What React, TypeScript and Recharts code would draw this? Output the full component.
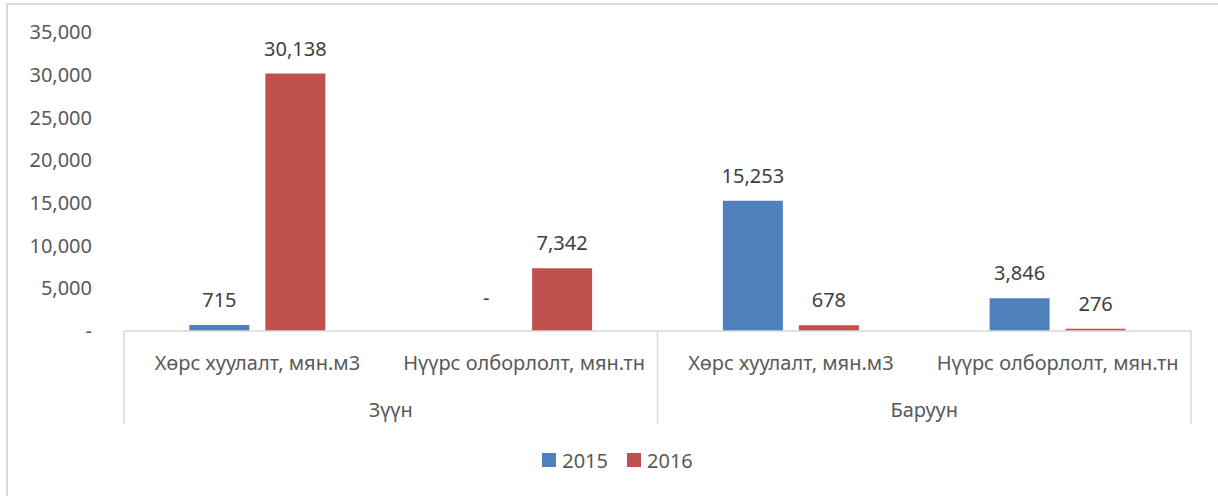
import { BarChart, Bar, XAxis, YAxis, LabelList, Legend } from "recharts";

const categories = [
  "Хөрс хуулалт, мян.м3",
  "Нүүрс олборлолт, мян.тн",
  "Хөрс хуулалт, мян.м3",
  "Нүүрс олборлолт, мян.тн",
];
const groups = ["Зүүн", "Зүүн", "Баруун", "Баруун"];
const values2015 = [715, 0, 15253, 3846];
const values2016 = [30138, 7342, 678, 276];
const yTicks = [0, 5000, 10000, 15000, 20000, 25000, 30000, 35000];

const data = categories.map((name, i) => ({
  name,
  group: groups[i],
  y2015: values2015[i],
  y2016: values2016[i],
}));

const FONT = '"Noto Sans", sans-serif';
const GRID = "#D9D9D9";
const fmt = (v: number) => (v === 0 ? "-" : v.toLocaleString("en-US"));
// zero bars get a hair of height so their "-" label is still drawn
const minSize = (v: any) => (Number(v) === 0 ? 0.01 : 0);

const InnerTick = (props: any) => {
  const { x, y, payload, index } = props;
  const half = payload.offset || 0;
  const newGroup = index === 0 || groups[index] !== groups[index - 1];
  const last = index === categories.length - 1;
  return (
    <g>
      {newGroup && <line x1={x - half} x2={x - half} y1={y} y2={y + 93} stroke={GRID} strokeWidth={1.5} />}
      {last && <line x1={x + half} x2={x + half} y1={y} y2={y + 93} stroke={GRID} strokeWidth={1.5} />}
      <text x={x} y={y + 39} textAnchor="middle" fill="#595959" fontSize={20} fontFamily={FONT}>
        {categories[index]}
      </text>
    </g>
  );
};

const GroupTick = (props: any) => {
  const { x, y, payload } = props;
  return (
    <text x={x} y={y + 39} textAnchor="middle" fill="#595959" fontSize={20} fontFamily={FONT}>
      {payload.value}
    </text>
  );
};

const BarLabel = (props: any) => {
  const { x, y, width, value } = props;
  const n = Number(value);
  return (
    <text
      x={Number(x) + Number(width) / 2}
      y={Number(y) - (n === 0 ? 26 : 18)}
      textAnchor="middle"
      fill="#404040"
      fontSize={20}
      fontFamily={FONT}
    >
      {fmt(n)}
    </text>
  );
};

const LegendContent = () => (
  <div style={{ height: 30, display: "flex", justifyContent: "center", alignItems: "center", paddingLeft: 44, fontFamily: FONT, fontSize: 20, color: "#595959" }}>
    <span style={{ width: 14, height: 14, background: "#4F81BD", marginRight: 6 }} />
    <span style={{ marginRight: 19 }}>2015</span>
    <span style={{ width: 14, height: 14, background: "#C0504D", marginRight: 6 }} />
    <span>2016</span>
  </div>
);

export default function App() {
  return (
    <div style={{ position: "absolute", left: 0, top: 0, width: 1218, height: 496, background: "#fff", overflow: "hidden" }}>
      <div style={{ position: "absolute", left: 6, top: 3, width: 1230, height: 510, borderLeft: `2px solid ${GRID}`, borderTop: `2px solid ${GRID}` }} />
      <BarChart
        width={1218}
        height={496}
        data={data}
        margin={{ top: 32, right: 27, bottom: 21, left: 0 }}
        barCategoryGap="24.5%"
        barGap={16}
      >
        <YAxis
          width={124}
          domain={[0, 35000]}
          ticks={yTicks}
          tickFormatter={fmt}
          axisLine={false}
          tickLine={false}
          tickSize={0}
          tickMargin={32}
          tick={{ fill: "#595959", fontSize: 20, fontFamily: FONT }}
        />
        <XAxis
          dataKey="name"
          height={47}
          axisLine={{ stroke: GRID, strokeWidth: 1.5 }}
          tickLine={false}
          tickSize={0}
          tickMargin={0}
          interval={0}
          tick={<InnerTick />}
        />
        <XAxis
          xAxisId="grp"
          dataKey="group"
          allowDuplicatedCategory={false}
          height={67}
          axisLine={false}
          tickLine={false}
          tickSize={0}
          tickMargin={0}
          interval={0}
          tick={<GroupTick />}
        />
        <Legend verticalAlign="bottom" content={<LegendContent />} />
        <Bar dataKey="y2015" name="2015" fill="#4F81BD" minPointSize={minSize} isAnimationActive={false}>
          <LabelList dataKey="y2015" content={<BarLabel />} />
        </Bar>
        <Bar dataKey="y2016" name="2016" fill="#C0504D" minPointSize={minSize} isAnimationActive={false}>
          <LabelList dataKey="y2016" content={<BarLabel />} />
        </Bar>
      </BarChart>
    </div>
  );
}
